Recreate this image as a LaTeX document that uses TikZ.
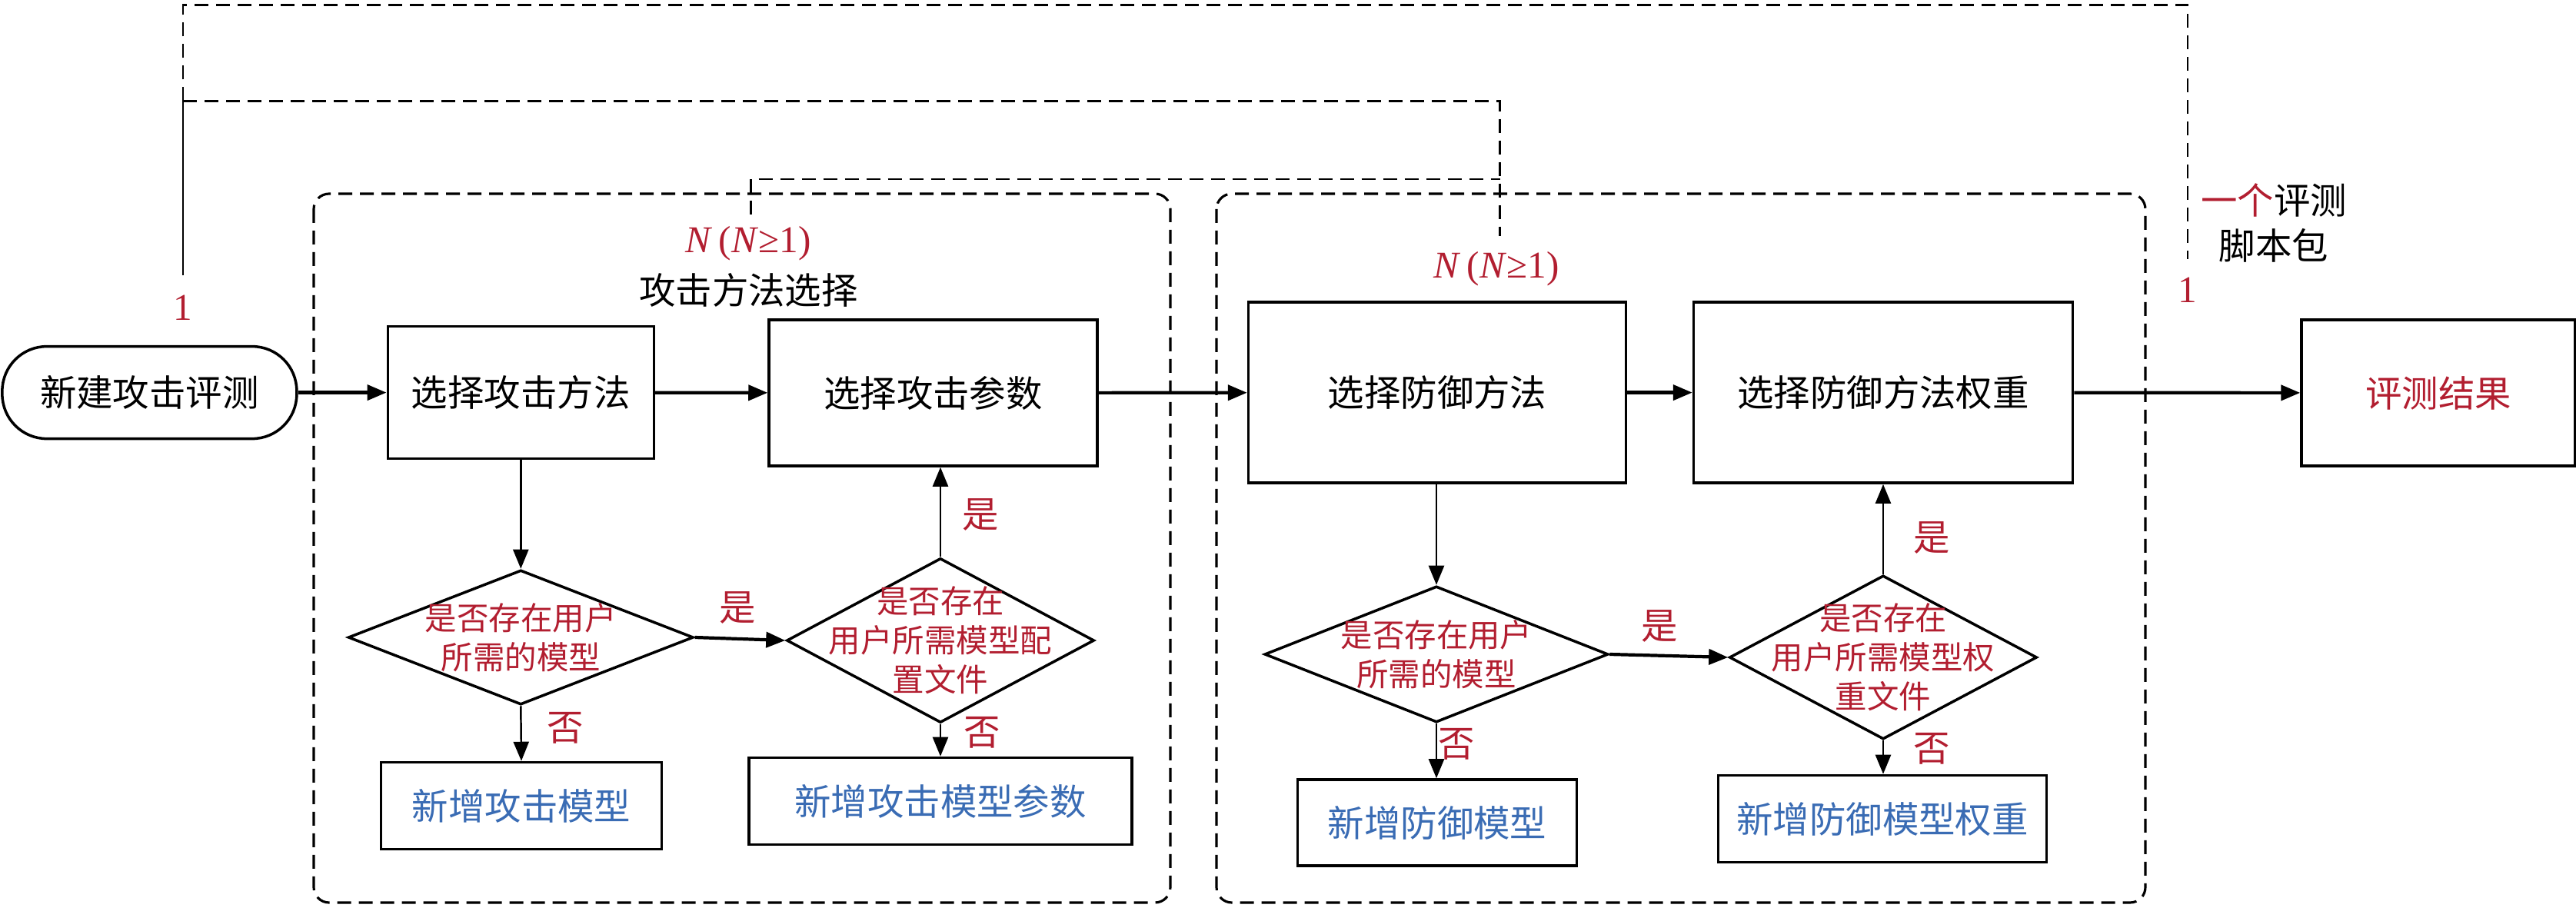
\documentclass[tikz,border=0pt]{standalone}
\usepackage{fontspec}
\setmainfont{Noto Sans CJK SC}
\newfontfamily\numfont{Liberation Serif}
\usetikzlibrary{arrows.meta,shapes.geometric}
\definecolor{markred}{RGB}{178,30,48}
\definecolor{addblue}{RGB}{58,108,180}
\newcommand\boxfont{\fontsize{13.5pt}{16pt}\selectfont}
\newcommand\askfont{\fontsize{11.8pt}{14.5pt}\selectfont}

\begin{document}
\begin{tikzpicture}[
  procbox/.style={draw, line width=1pt, inner sep=0pt, font=\boxfont},
  decide/.style={draw, diamond, line width=1pt, inner sep=0pt},
  asktext/.style={align=center, text=markred, font=\askfont},
  grpframe/.style={line width=0.9pt, dash pattern=on 0.18cm off 0.1cm, rounded corners=0.2cm},
  loopline/.style={line width=0.8pt, dash pattern=on 0.18cm off 0.1cm},
  flow/.style={line width=1.2pt, -{Triangle[length=0.25cm,width=0.2cm]}},
  down/.style={line width=0.7pt, -{Triangle[length=0.25cm,width=0.2cm]}},
  redlab/.style={text=markred, font=\numfont\fontsize{14pt}{16pt}\selectfont},
  yn/.style={text=markred, font=\boxfont}
]
\useasboundingbox (0,0) rectangle (33.5,-11.81);

% two selection groups
\draw[grpframe] (4.08,-2.52) rectangle (15.22,-11.74);
\draw[grpframe] (15.82,-2.52) rectangle (27.90,-11.74);

% main row
\node[procbox, minimum width=3.83cm, minimum height=1.2cm, rounded corners=0.58cm] (start) at (1.944,-5.106) {新建攻击评测};
\node[procbox, minimum width=3.46cm, minimum height=1.72cm] (selatk) at (6.773,-5.106) {选择攻击方法};
\node[procbox, minimum width=4.27cm, minimum height=1.90cm] (selpar) at (12.135,-5.11) {选择攻击参数};
\node[procbox, minimum width=4.91cm, minimum height=2.35cm] (seldef) at (18.69,-5.106) {选择防御方法};
\node[procbox, minimum width=4.93cm, minimum height=2.35cm] (selwt) at (24.49,-5.106) {选择防御方法权重};
\node[procbox, minimum width=3.56cm, minimum height=1.90cm, text=markred] (result) at (31.71,-5.11) {评测结果};

% checks
\node[decide, minimum width=4.49cm, minimum height=1.75cm] (d1) at (6.773,-8.29) {};
\node[asktext] (d1t) at (d1) {是否存在用户\\所需的模型};
\node[decide, minimum width=4.0cm, minimum height=2.14cm] (d2) at (12.23,-8.33) {};
\node[asktext] (d2t) at (d2) {是否存在\\用户所需模型配\\置文件};
\node[decide, minimum width=4.47cm, minimum height=1.77cm] (d3) at (18.68,-8.51) {};
\node[asktext] (d3t) at (d3) {是否存在用户\\所需的模型};
\node[decide, minimum width=4.0cm, minimum height=2.13cm] (d4) at (24.49,-8.55) {};
\node[asktext] (d4t) at (d4) {是否存在\\用户所需模型权\\重文件};

% additions
\node[procbox, minimum width=3.65cm, minimum height=1.13cm, text=addblue] (newatk) at (6.78,-10.48) {新增攻击模型};
\node[procbox, minimum width=4.98cm, minimum height=1.13cm, text=addblue] (newpar) at (12.23,-10.42) {新增攻击模型参数};
\node[procbox, minimum width=3.63cm, minimum height=1.12cm, text=addblue] (newdef) at (18.69,-10.70) {新增防御模型};
\node[procbox, minimum width=4.27cm, minimum height=1.13cm, text=addblue] (newwt) at (24.48,-10.65) {新增防御模型权重};

% flow
\draw[flow] (start) -- (selatk);
\draw[flow] (selatk) -- (selpar);
\draw[flow] (selpar) -- (seldef);
\draw[flow] (seldef) -- (selwt);
\draw[flow] (selwt) -- (result);
\draw[flow] (d1.east) -- (d2.west);
\draw[flow] (d3.east) -- (d4.west);
\draw[down] (selatk.south) -- (d1.north);
\draw[down] (d1.south) -- (newatk.north);
\draw[down] (d2.north) -- (d2.north |- selpar.south);
\draw[down] (d2.south) -- (d2.south |- newpar.north);
\draw[down] (d3.north |- seldef.south) -- (d3.north);
\draw[down] (d3.south) -- (d3.south |- newdef.north);
\draw[down] (d4.north) -- (d4.north |- selwt.south);
\draw[down] (d4.south) -- (d4.south |- newwt.north);

% answers
\node[yn] (yes1) at (9.59,-7.905) {是};
\node[yn] (yes2) at (12.755,-6.69) {是};
\node[yn] (no1) at (7.35,-9.465) {否};
\node[yn] (no2) at (12.776,-9.53) {否};
\node[yn] (yes3) at (21.58,-8.14) {是};
\node[yn] (yes4) at (25.12,-6.99) {是};
\node[yn] (no3) at (18.94,-9.68) {否};
\node[yn] (no4) at (25.12,-9.74) {否};

% repeat counts
\node[redlab] (one1) at (2.38,-4.00) {1};
\node[redlab] (one2) at (28.45,-3.77) {1};
\node[redlab] (nleft) at (9.73,-3.167) {\textit{N}\,(\textit{N}≥1)};
\node[redlab] (nright) at (19.46,-3.50) {\textit{N}\,(\textit{N}≥1)};
\node[font=\boxfont] (grpname) at (9.735,-3.77) {攻击方法选择};
\node[align=center, font=\fontsize{13.5pt}{17pt}\selectfont] (pkg) at (29.57,-2.90) {\textcolor{markred}{一个}评测\\脚本包};

\coordinate (c1) at (2.38,-0.065);
\coordinate (c2) at (28.45,-0.065);
\coordinate (c3) at (2.38,-1.315);
\coordinate (c4) at (19.507,-1.315);
\coordinate (c5) at (9.767,-2.33);
\coordinate (c6) at (19.507,-2.33);
\coordinate (e1) at (2.38,-3.58);
\coordinate (e2) at (28.45,-3.37);
\coordinate (e4) at (19.507,-3.07);
\coordinate (e5) at (9.767,-2.79);
\draw[loopline] (c3) -- (c1) -- (c2) -- (e2);
\draw[line width=0.8pt] (e1) -- (c3);
\draw[loopline] (c3) -- (c4) -- (e4);
\draw[loopline] (e5) -- (c5) -- (c6);
\end{tikzpicture}
\end{document}
